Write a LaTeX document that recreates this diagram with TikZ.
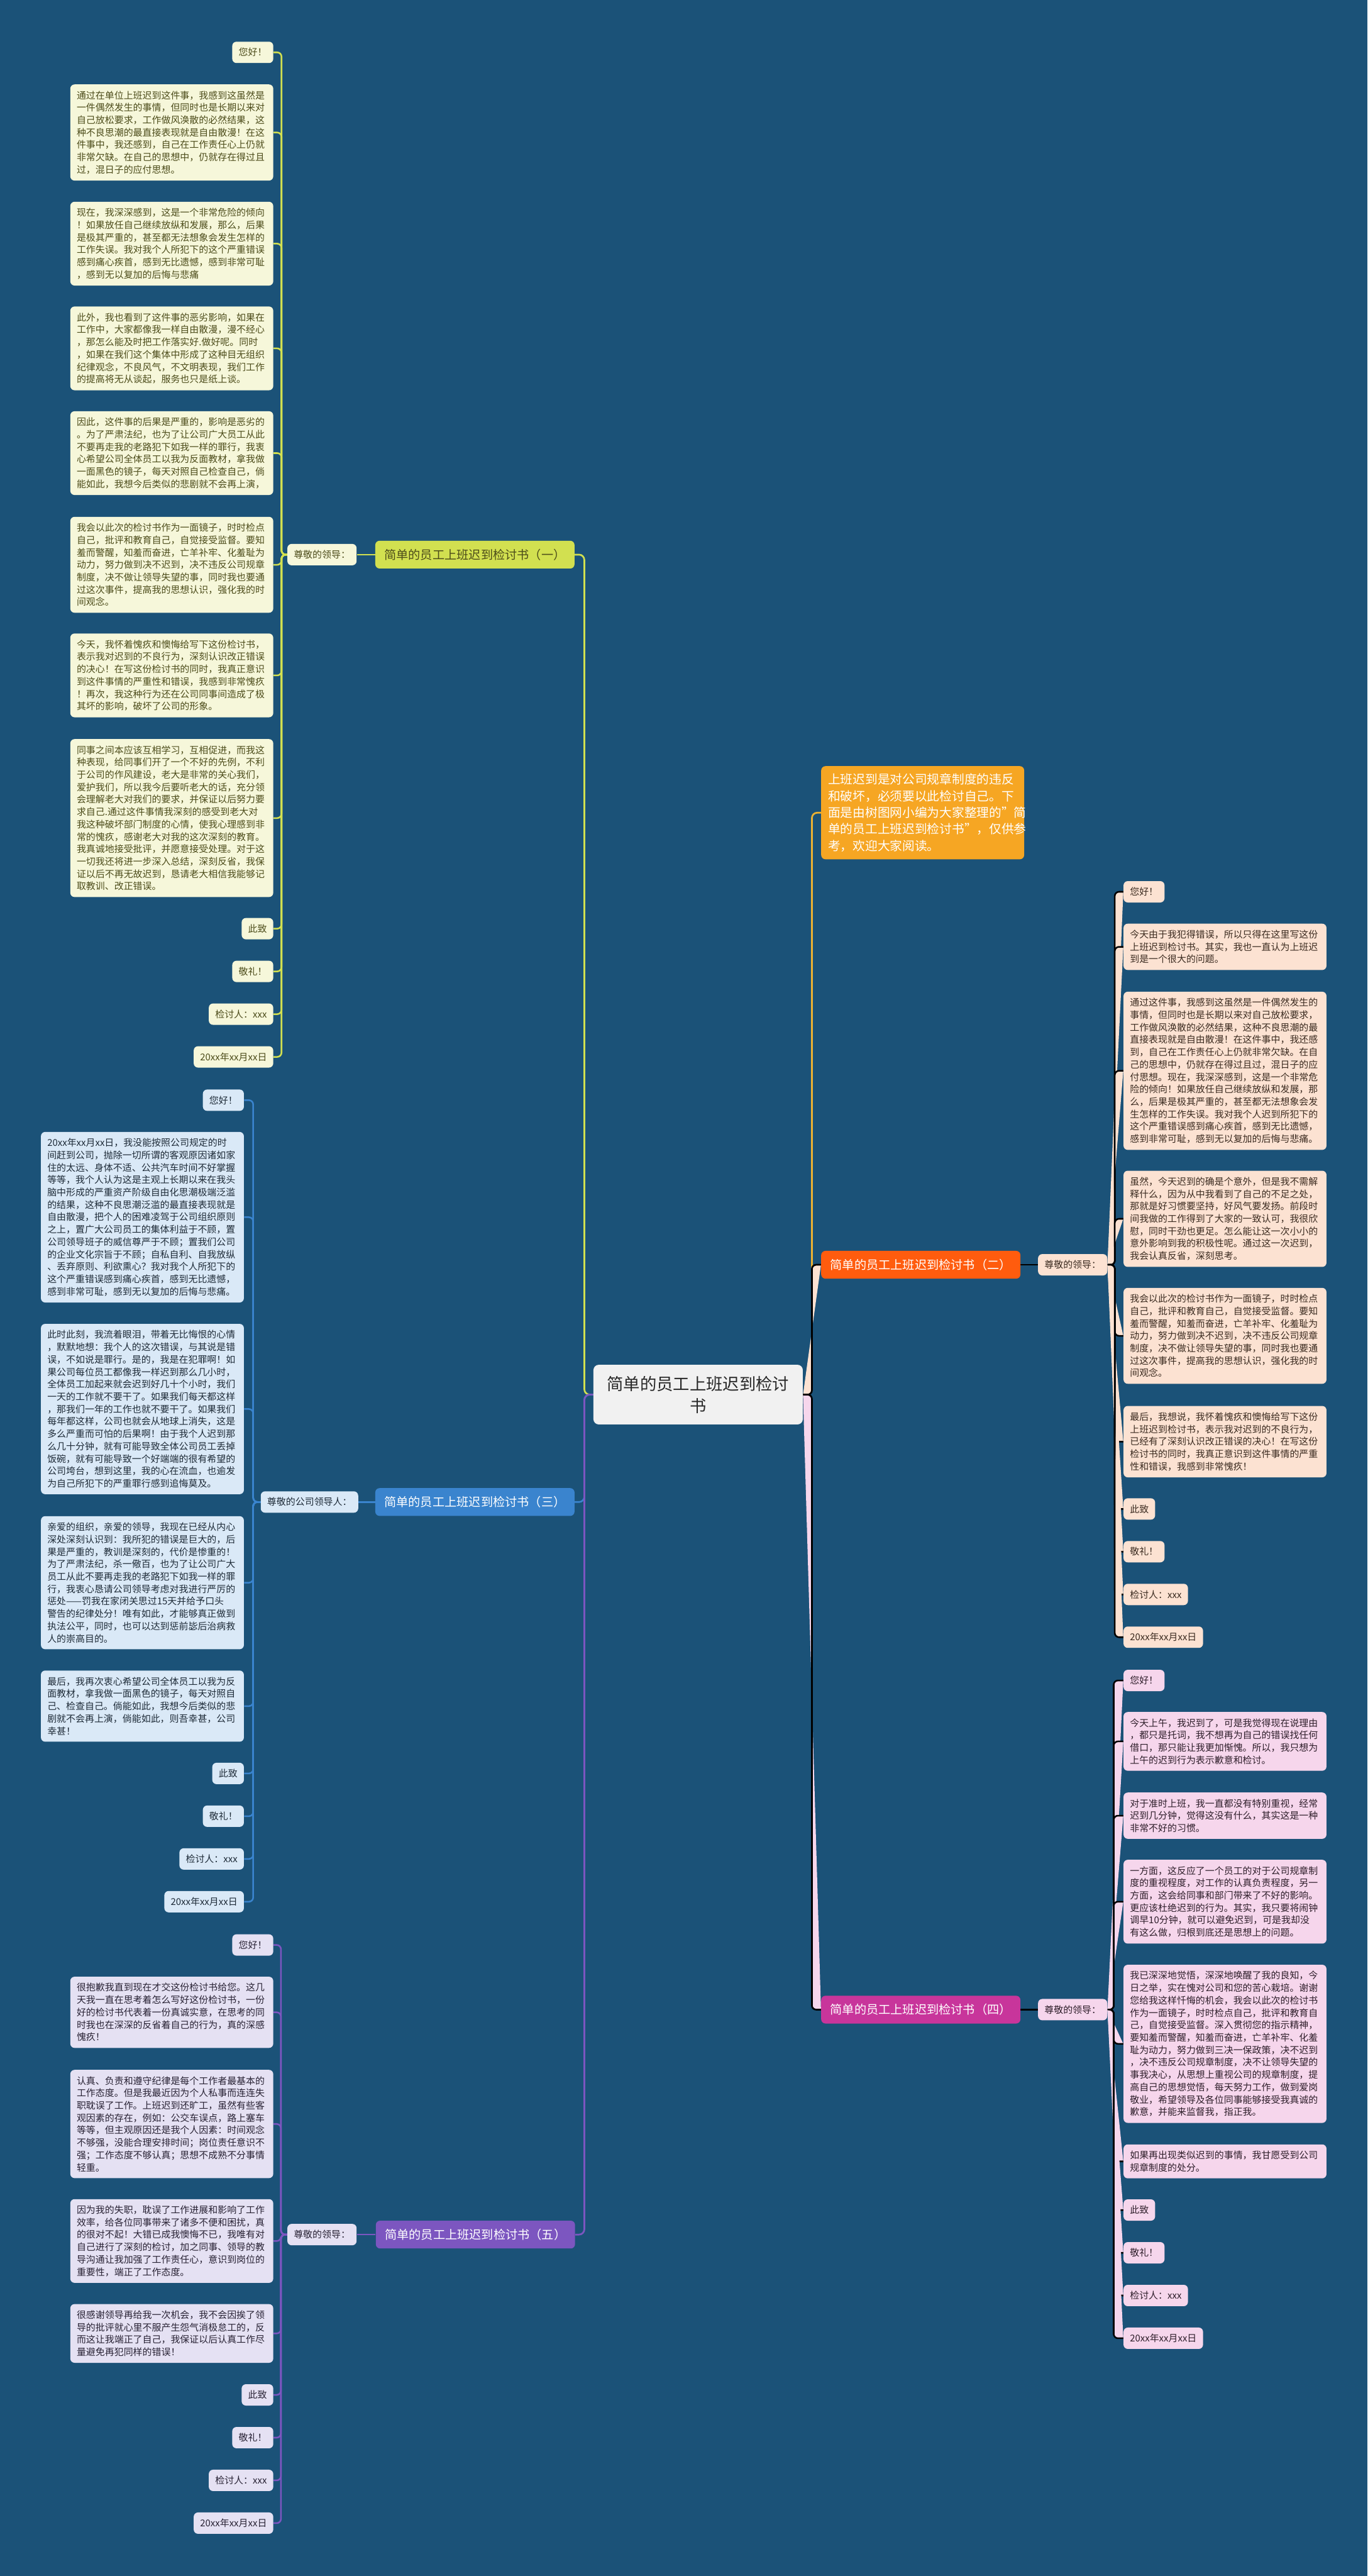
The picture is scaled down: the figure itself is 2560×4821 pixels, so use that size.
\documentclass[tikz,border=0pt]{standalone}
\usepackage{fontspec}
\setmainfont{Noto Sans CJK SC}
\definecolor{bgc}{RGB}{27,82,120}
\definecolor{cF}{RGB}{241,241,241}
\definecolor{cT}{RGB}{40,40,40}
\definecolor{aN}{RGB}{210,224,80}
\definecolor{aF}{RGB}{246,247,218}
\definecolor{aT}{RGB}{76,76,26}
\definecolor{bN}{RGB}{58,132,206}
\definecolor{bF}{RGB}{218,233,247}
\definecolor{bT}{RGB}{30,43,56}
\definecolor{eN}{RGB}{124,86,192}
\definecolor{eF}{RGB}{229,225,243}
\definecolor{eT}{RGB}{40,34,52}
\definecolor{iN}{RGB}{246,166,35}
\definecolor{iL}{RGB}{236,178,50}
\definecolor{dN}{RGB}{255,92,14}
\definecolor{dL}{RGB}{232,112,42}
\definecolor{dF}{RGB}{252,226,210}
\definecolor{dT}{RGB}{59,43,32}
\definecolor{fN}{RGB}{200,53,155}
\definecolor{fL}{RGB}{184,69,165}
\definecolor{fF}{RGB}{246,214,236}
\definecolor{fT}{RGB}{46,30,42}
\pgfdeclarelayer{bgl}
\pgfdeclarelayer{lnl}
\pgfsetlayers{bgl,lnl,main}
\tikzset{
  sleaf/.style={rounded corners=4pt, inner xsep=6pt, inner ysep=5pt, minimum height=20pt,
    font=\fontsize{8.8pt}{11.6pt}\selectfont},
  lleaf/.style={rounded corners=4pt, inner xsep=6pt, inner ysep=6pt, text width=178pt, align=left,
    font=\fontsize{8.8pt}{11.6pt}\selectfont},
  bnode/.style={rounded corners=4pt, inner xsep=8.5pt, minimum height=26pt,
    font=\fontsize{11.3pt}{14pt}\selectfont, text=white},
  aS/.style={sleaf, fill=aF, text=aT, anchor=east},
  aL/.style={lleaf, fill=aF, text=aT, anchor=east},
  bS/.style={sleaf, fill=bF, text=bT, anchor=east},
  bL/.style={lleaf, fill=bF, text=bT, anchor=east},
  eS/.style={sleaf, fill=eF, text=eT, anchor=east},
  eL/.style={lleaf, fill=eF, text=eT, anchor=east},
  dS/.style={sleaf, fill=dF, text=dT, anchor=west},
  dL/.style={lleaf, fill=dF, text=dT, anchor=west},
  fS/.style={sleaf, fill=fF, text=fT, anchor=west},
  fL/.style={lleaf, fill=fF, text=fT, anchor=west},
  ln/.style={line width=1.5pt, rounded corners=4pt},
  mln/.style={line width=1.6pt, rounded corners=5pt},
}
\begin{document}
\begin{tikzpicture}[x=0.5pt,y=-0.5pt]
\begin{pgfonlayer}{bgl}
\fill[bgc] (0,0) rectangle (2560,4821);
\end{pgfonlayer}
\useasboundingbox (0,0) rectangle (2560,4821);

\coordinate (tL) at (1094,0);
\coordinate (tR) at (1520,0);
\coordinate (tA) at (527,0);
\coordinate (tB) at (474,0);
\coordinate (tE) at (526,0);
\coordinate (tD) at (2087,0);
\coordinate (tF) at (2085,0);

% center
\node[fill=cF, text=cT, text width=171pt, align=center, inner xsep=12.5pt, inner ysep=10.5pt,
  rounded corners=5pt, font=\fontsize{15.5pt}{20.5pt}\selectfont] (C) at (1307,2610)
  {简单的员工上班迟到检讨\\书};

% ===== branch 1 =====
\node[bnode, fill=aN, text=aT, anchor=east] (A) at (1076,1038) {简单的员工上班迟到检讨书（一）};
\node[sleaf, fill=aF, text=aT, anchor=east] (la) at (668,1038) {尊敬的领导：};
\node[aS] (a1) at (512,98) {您好！};
\node[aL] (a2) at (512,248) {通过在单位上班迟到这件事，我感到这虽然是\\一件偶然发生的事情，但同时也是长期以来对\\自己放松要求，工作做风涣散的必然结果，这\\种不良思潮的最直接表现就是自由散漫！在这\\件事中，我还感到，自己在工作责任心上仍就\\非常欠缺。在自己的思想中，仍就存在得过且\\过，混日子的应付思想。};
\node[aL] (a3) at (512,456) {现在，我深深感到，这是一个非常危险的倾向\\！如果放任自己继续放纵和发展，那么，后果\\是极其严重的，甚至都无法想象会发生怎样的\\工作失误。我对我个人所犯下的这个严重错误\\感到痛心疾首，感到无比遗憾，感到非常可耻\\，感到无以复加的后悔与悲痛};
\node[aL] (a4) at (512,652) {此外，我也看到了这件事的恶劣影响，如果在\\工作中，大家都像我一样自由散漫，漫不经心\\，那怎么能及时把工作落实好.做好呢。同时\\，如果在我们这个集体中形成了这种目无组织\\纪律观念，不良风气，不文明表现，我们工作\\的提高将无从谈起，服务也只是纸上谈。};
\node[aL] (a5) at (512,848) {因此，这件事的后果是严重的，影响是恶劣的\\。为了严肃法纪，也为了让公司广大员工从此\\不要再走我的老路犯下如我一样的罪行，我衷\\心希望公司全体员工以我为反面教材，拿我做\\一面黑色的镜子，每天对照自己检查自己，倘\\能如此，我想今后类似的悲剧就不会再上演，};
\node[aL] (a6) at (512,1057) {我会以此次的检讨书作为一面镜子，时时检点\\自己，批评和教育自己，自觉接受监督。要知\\羞而警醒，知羞而奋进，亡羊补牢、化羞耻为\\动力，努力做到决不迟到，决不违反公司规章\\制度，决不做让领导失望的事，同时我也要通\\过这次事件，提高我的思想认识，强化我的时\\间观念。};
\node[aL] (a7) at (512,1264) {今天，我怀着愧疚和懊悔给写下这份检讨书，\\表示我对迟到的不良行为，深刻认识改正错误\\的决心！在写这份检讨书的同时，我真正意识\\到这件事情的严重性和错误，我感到非常愧疚\\！再次，我这种行为还在公司同事间造成了极\\其坏的影响，破坏了公司的形象。};
\node[aL] (a8) at (512,1531) {同事之间本应该互相学习，互相促进，而我这\\种表现，给同事们开了一个不好的先例，不利\\于公司的作风建设，老大是非常的关心我们，\\爱护我们，所以我今后要听老大的话，充分领\\会理解老大对我们的要求，并保证以后努力要\\求自己.通过这件事情我深刻的感受到老大对\\我这种破坏部门制度的心情，使我心理感到非\\常的愧疚，感谢老大对我的这次深刻的教育。\\我真诚地接受批评，并愿意接受处理。对于这\\一切我还将进一步深入总结，深刻反省，我保\\证以后不再无故迟到，恳请老大相信我能够记\\取教训、改正错误。};
\node[aS] (a9) at (512,1738) {此致};
\node[aS] (a10) at (512,1818) {敬礼！};
\node[aS] (a11) at (512,1898) {检讨人：xxx};
\node[aS] (a12) at (512,1978) {20xx年xx月xx日};

% ===== branch 3 =====
\node[bnode, fill=bN, anchor=east] (B) at (1076,2811) {简单的员工上班迟到检讨书（三）};
\node[sleaf, fill=bF, text=bT, anchor=east] (lb) at (671,2811) {尊敬的公司领导人：};
\node[bS] (b1) at (457,2059) {您好！};
\node[bL] (b2) at (457,2278) {20xx年xx月xx日，我没能按照公司规定的时\\间赶到公司，抛除一切所谓的客观原因诸如家\\住的太远、身体不适、公共汽车时间不好掌握\\等等，我个人认为这是主观上长期以来在我头\\脑中形成的严重资产阶级自由化思潮极端泛滥\\的结果，这种不良思潮泛滥的最直接表现就是\\自由散漫，把个人的困难凌驾于公司组织原则\\之上，置广大公司员工的集体利益于不顾，置\\公司领导班子的威信尊严于不顾；置我们公司\\的企业文化宗旨于不顾；自私自利、自我放纵\\、丢弃原则、利欲熏心？我对我个人所犯下的\\这个严重错误感到痛心疾首，感到无比遗憾，\\感到非常可耻，感到无以复加的后悔与悲痛。};
\node[bL] (b3) at (457,2637) {此时此刻，我流着眼泪，带着无比悔恨的心情\\，默默地想：我个人的这次错误，与其说是错\\误，不如说是罪行。是的，我是在犯罪啊！如\\果公司每位员工都像我一样迟到那么几小时，\\全体员工加起来就会迟到好几十个小时，我们\\一天的工作就不要干了。如果我们每天都这样\\，那我们一年的工作也就不要干了。如果我们\\每年都这样，公司也就会从地球上消失，这是\\多么严重而可怕的后果啊！由于我个人迟到那\\么几十分钟，就有可能导致全体公司员工丢掉\\饭碗，就有可能导致一个好端端的很有希望的\\公司垮台，想到这里，我的心在流血，也逾发\\为自己所犯下的严重罪行感到追悔莫及。};
\node[bL] (b4) at (457,2962) {亲爱的组织，亲爱的领导，我现在已经从内心\\深处深刻认识到：我所犯的错误是巨大的，后\\果是严重的，教训是深刻的，代价是惨重的！\\为了严肃法纪，杀一儆百，也为了让公司广大\\员工从此不要再走我的老路犯下如我一样的罪\\行，我衷心恳请公司领导考虑对我进行严厉的\\惩处——罚我在家闭关思过15天并给予口头\\警告的纪律处分！唯有如此，才能够真正做到\\执法公平，同时，也可以达到惩前毖后治病救\\人的崇高目的。};
\node[bL] (b5) at (457,3193) {最后，我再次衷心希望公司全体员工以我为反\\面教材，拿我做一面黑色的镜子，每天对照自\\己、检查自己。倘能如此，我想今后类似的悲\\剧就不会再上演，倘能如此，则吾幸甚，公司\\幸甚！};
\node[bS] (b6) at (457,3319) {此致};
\node[bS] (b7) at (457,3399) {敬礼！};
\node[bS] (b8) at (457,3479) {检讨人：xxx};
\node[bS] (b9) at (457,3559) {20xx年xx月xx日};

% ===== branch 5 =====
\node[bnode, fill=eN, anchor=east] (E) at (1077,4182) {简单的员工上班迟到检讨书（五）};
\node[sleaf, fill=eF, text=eT, anchor=east] (le) at (668,4182) {尊敬的领导：};
\node[eS] (e1) at (512,3640) {您好！};
\node[eL] (e2) at (512,3766) {很抱歉我直到现在才交这份检讨书给您。这几\\天我一直在思考着怎么写好这份检讨书，一份\\好的检讨书代表着一份真诚实意，在思考的同\\时我也在深深的反省着自己的行为，真的深感\\愧疚！};
\node[eL] (e3) at (512,3975) {认真、负责和遵守纪律是每个工作者最基本的\\工作态度。但是我最近因为个人私事而连连失\\职耽误了工作。上班迟到还旷工，虽然有些客\\观因素的存在，例如：公交车误点，路上塞车\\等等，但主观原因还是我个人因素：时间观念\\不够强，没能合理安排时间；岗位责任意识不\\强；工作态度不够认真；思想不成熟不分事情\\轻重。};
\node[eL] (e4) at (512,4194) {因为我的失职，耽误了工作进展和影响了工作\\效率，给各位同事带来了诸多不便和困扰，真\\的很对不起！大错已成我懊悔不已，我唯有对\\自己进行了深刻的检讨，加之同事、领导的教\\导沟通让我加强了工作责任心，意识到岗位的\\重要性，端正了工作态度。};
\node[eL] (e5) at (512,4367) {很感谢领导再给我一次机会，我不会因挨了领\\导的批评就心里不服产生怨气消极怠工的，反\\而这让我端正了自己，我保证以后认真工作尽\\量避免再犯同样的错误！};
\node[eS] (e6) at (512,4482) {此致};
\node[eS] (e7) at (512,4562) {敬礼！};
\node[eS] (e8) at (512,4642) {检讨人：xxx};
\node[eS] (e9) at (512,4722) {20xx年xx月xx日};

% ===== intro =====
\node[fill=iN, text=white, text width=177pt, align=left, inner xsep=6.5pt, inner ysep=7pt,
  rounded corners=4pt, font=\fontsize{11.6pt}{15.5pt}\selectfont, anchor=west] (I) at (1537,1521)
  {上班迟到是对公司规章制度的违反\\和破坏，必须要以此检讨自己。下\\面是由树图网小编为大家整理的"简\\单的员工上班迟到检讨书"，仅供参\\考，欢迎大家阅读。};

% ===== branch 2 =====
\node[bnode, fill=dN, anchor=west] (D) at (1537,2367) {简单的员工上班迟到检讨书（二）};
\node[sleaf, fill=dF, text=dT, anchor=west] (ld) at (1943,2367) {尊敬的领导：};
\node[dS] (d1) at (2103,1669) {您好！};
\node[dL] (d2) at (2103,1772) {今天由于我犯得错误，所以只得在这里写这份\\上班迟到检讨书。其实，我也一直认为上班迟\\到是一个很大的问题。};
\node[dL] (d3) at (2103,2004) {通过这件事，我感到这虽然是一件偶然发生的\\事情，但同时也是长期以来对自己放松要求，\\工作做风涣散的必然结果，这种不良思潮的最\\直接表现就是自由散漫！在这件事中，我还感\\到，自己在工作责任心上仍就非常欠缺。在自\\己的思想中，仍就存在得过且过，混日子的应\\付思想。现在，我深深感到，这是一个非常危\\险的倾向！如果放任自己继续放纵和发展，那\\么，后果是极其严重的，甚至都无法想象会发\\生怎样的工作失误。我对我个人迟到所犯下的\\这个严重错误感到痛心疾首，感到无比遗憾，\\感到非常可耻，感到无以复加的后悔与悲痛。};
\node[dL] (d4) at (2103,2281) {虽然，今天迟到的确是个意外，但是我不需解\\释什么，因为从中我看到了自己的不足之处，\\那就是好习惯要坚持，好风气要发扬。前段时\\间我做的工作得到了大家的一致认可，我很欣\\慰，同时干劲也更足。怎么能让这一次小小的\\意外影响到我的积极性呢。通过这一次迟到，\\我会认真反省，深刻思考。};
\node[dL] (d5) at (2103,2500) {我会以此次的检讨书作为一面镜子，时时检点\\自己，批评和教育自己，自觉接受监督。要知\\羞而警醒，知羞而奋进，亡羊补牢、化羞耻为\\动力，努力做到决不迟到，决不违反公司规章\\制度，决不做让领导失望的事，同时我也要通\\过这次事件，提高我的思想认识，强化我的时\\间观念。};
\node[dL] (d6) at (2103,2698) {最后，我想说，我怀着愧疚和懊悔给写下这份\\上班迟到检讨书，表示我对迟到的不良行为，\\已经有了深刻认识改正错误的决心！在写这份\\检讨书的同时，我真正意识到这件事情的严重\\性和错误，我感到非常愧疚！};
\node[dS] (d7) at (2103,2824) {此致};
\node[dS] (d8) at (2103,2904) {敬礼！};
\node[dS] (d9) at (2103,2984) {检讨人：xxx};
\node[dS] (d10) at (2103,3064) {20xx年xx月xx日};

% ===== branch 4 =====
\node[bnode, fill=fN, anchor=west] (F) at (1537,3761) {简单的员工上班迟到检讨书（四）};
\node[sleaf, fill=fF, text=fT, anchor=west] (lf) at (1943,3761) {尊敬的领导：};
\node[fS] (f1) at (2103,3145) {您好！};
\node[fL] (f2) at (2103,3259) {今天上午，我迟到了，可是我觉得现在说理由\\，都只是托词，我不想再为自己的错误找任何\\借口，那只能让我更加惭愧。所以，我只想为\\上午的迟到行为表示歉意和检讨。};
\node[fL] (f3) at (2103,3398) {对于准时上班，我一直都没有特别重视，经常\\迟到几分钟，觉得这没有什么，其实这是一种\\非常不好的习惯。};
\node[fL] (f4) at (2103,3559) {一方面，这反应了一个员工的对于公司规章制\\度的重视程度，对工作的认真负责程度，另一\\方面，这会给同事和部门带来了不好的影响。\\更应该杜绝迟到的行为。其实，我只要将闹钟\\调早10分钟，就可以避免迟到，可是我却没\\有这么做，归根到底还是思想上的问题。};
\node[fL] (f5) at (2103,3825) {我已深深地觉悟，深深地唤醒了我的良知，今\\日之举，实在愧对公司和您的苦心栽培。谢谢\\您给我这样忏悔的机会，我会以此次的检讨书\\作为一面镜子，时时检点自己，批评和教育自\\己，自觉接受监督。深入贯彻您的指示精神，\\要知羞而警醒，知羞而奋进，亡羊补牢、化羞\\耻为动力，努力做到三决一保政策，决不迟到\\，决不违反公司规章制度，决不让领导失望的\\事我决心，从思想上重视公司的规章制度，提\\高自己的思想觉悟，每天努力工作，做到爱岗\\敬业，希望领导及各位同事能够接受我真诚的\\歉意，并能来监督我，指正我。};
\node[fL] (f6) at (2103,4045) {如果再出现类似迟到的事情，我甘愿受到公司\\规章制度的处分。};
\node[fS] (f7) at (2103,4136) {此致};
\node[fS] (f8) at (2103,4216) {敬礼！};
\node[fS] (f9) at (2103,4296) {检讨人：xxx};
\node[fS] (f10) at (2103,4376) {20xx年xx月xx日};

% ===== connectors =====
\begin{pgfonlayer}{lnl}
\draw[mln, aN] (C.west) -- (C.west -| tL) |- (A.east);
\draw[mln, bN] (C.west) -- (C.west -| tL) |- (B.east);
\draw[mln, eN] (C.west) -- (C.west -| tL) |- (E.east);
\draw[mln, iL] (C.east) -- (C.east -| tR) |- (I.west);
\draw[mln, dL] (C.east) -- (C.east -| tR) |- (D.west);
\draw[mln, fL] (C.east) -- (C.east -| tR) |- (F.west);

\draw[ln, aN] (A.west) -- (la.east);
\draw[ln, bN] (B.west) -- (lb.east);
\draw[ln, eN] (E.west) -- (le.east);
\draw[ln, dL] (D.east) -- (ld.west);
\draw[ln, fL] (F.east) -- (lf.west);

\foreach \n in {a1,a2,a3,a4,a5,a6,a7,a8,a9,a10,a11,a12}
  \draw[ln, aN] (la.west) -- (la.west -| tA) |- (\n.east);
\foreach \n in {b1,b2,b3,b4,b5,b6,b7,b8,b9}
  \draw[ln, bN] (lb.west) -- (lb.west -| tB) |- (\n.east);
\foreach \n in {e1,e2,e3,e4,e5,e6,e7,e8,e9}
  \draw[ln, eN] (le.west) -- (le.west -| tE) |- (\n.east);
\foreach \n in {d1,d2,d3,d4,d5,d6,d7,d8,d9,d10}
  \draw[ln, dL] (ld.east) -- (ld.east -| tD) |- (\n.west);
\foreach \n in {f1,f2,f3,f4,f5,f6,f7,f8,f9,f10}
  \draw[ln, fL] (lf.east) -- (lf.east -| tF) |- (\n.west);
\end{pgfonlayer}
\end{tikzpicture}
\end{document}
